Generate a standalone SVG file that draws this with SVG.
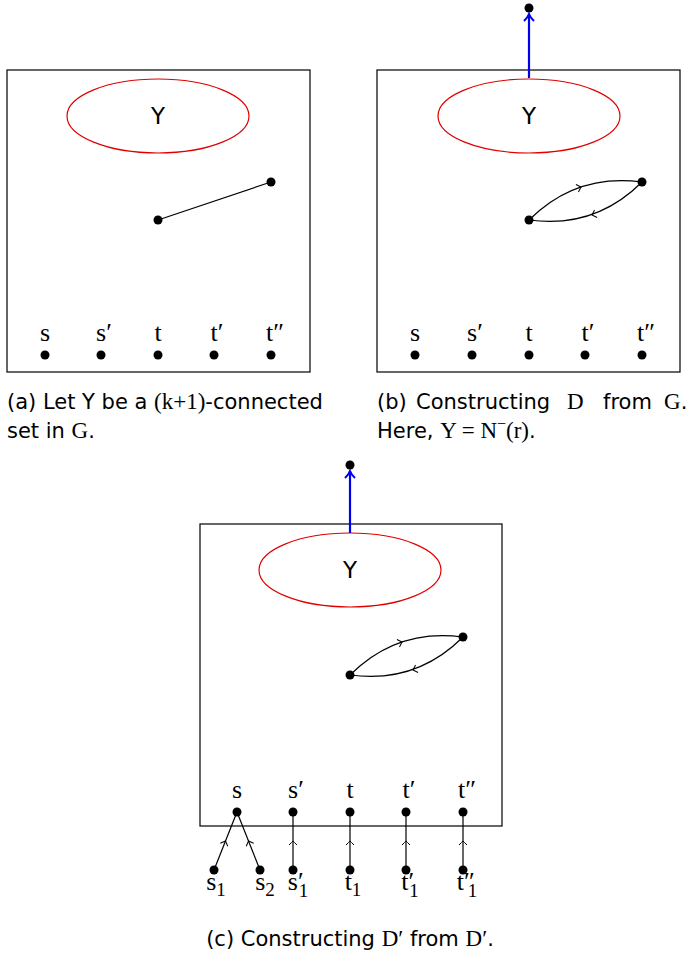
<svg xmlns="http://www.w3.org/2000/svg" width="696" height="961" viewBox="0 0 696 961">
<style>
.box{fill:none;stroke:#000;stroke-width:1.2}
.ell{fill:none;stroke:#e00000;stroke-width:1.2}
.edge{fill:none;stroke:#000;stroke-width:1.2}
.blue{fill:none;stroke:#0000ee;stroke-width:2.2}
.chev{fill:none;stroke:#000;stroke-width:1}
.m{font-family:"Liberation Serif","DejaVu Serif",serif;font-size:26px;text-anchor:middle}
.cap{font-family:"DejaVu Sans","Liberation Sans",sans-serif;font-size:21px}
.capm{font-family:"Liberation Serif","DejaVu Serif",serif;font-size:23px}
.Y{font-family:"DejaVu Sans","Liberation Sans",sans-serif;font-size:23px;text-anchor:middle}
</style>
<defs>
<marker id="bh" viewBox="-8 -6 10 12" markerWidth="10" markerHeight="12" refX="0" refY="0" orient="auto" markerUnits="userSpaceOnUse">
<path d="M-7,-5 Q-3,-1 0,0 Q-3,1 -7,5" fill="none" stroke="#0000ee" stroke-width="2"/>
</marker>
<path id="ch" d="M-4,-4 Q-1,-1 0,0 Q-1,1 -4,4" class="chev"/>
</defs>

<g id="panel-a">
<rect class="box" x="7" y="70" width="303" height="302"/>
<g id="a-Y"><ellipse class="ell" cx="158" cy="116" rx="91" ry="37"/><text class="Y" x="158" y="124">Y</text></g>
<g id="a-edges"><line class="edge" x1="158" y1="220" x2="271" y2="182"/></g>
<g id="a-n1"><circle cx="158" cy="220" r="4.5"/></g>
<g id="a-n2"><circle cx="271" cy="182" r="4.5"/></g>
<g id="a-s"><circle cx="45" cy="355" r="4.5"/><text class="m" x="45" y="341">s</text></g>
<g id="a-s1"><circle cx="101" cy="355" r="4.5"/><text class="m" x="104" y="341">s′</text></g>
<g id="a-t"><circle cx="158" cy="355" r="4.5"/><text class="m" x="158" y="341">t</text></g>
<g id="a-t1"><circle cx="214" cy="355" r="4.5"/><text class="m" x="217" y="341">t′</text></g>
<g id="a-t2"><circle cx="271" cy="355" r="4.5"/><text class="m" x="275" y="341">t″</text></g>
<text class="cap" x="7" y="409">(a) Let Y be a <tspan class="capm">(k+1)</tspan>-connected</text>
<text class="cap" x="7" y="438">set in <tspan class="capm">G</tspan>.</text>
</g>

<g id="panel-b">
<rect class="box" x="377" y="70" width="303" height="302"/>
<g id="b-Y"><ellipse class="ell" cx="529" cy="116" rx="91" ry="37"/><text class="Y" x="529" y="124">Y</text></g>
<g id="b-r"><circle cx="529" cy="8" r="4.5"/></g>
<g id="b-connectors">
<line class="blue" x1="529" y1="78" x2="529" y2="14" marker-end="url(#bh)"/>
<path class="edge" d="M529,220 Q576,173 642,182"/>
<path class="edge" d="M529,220 Q595,229 642,182"/>
<use href="#ch" transform="translate(581,187) rotate(-18.6)"/>
<use href="#ch" transform="translate(592,215) rotate(161.4)"/>
</g>
<g id="b-n1"><circle cx="529" cy="220" r="4.5"/></g>
<g id="b-n2"><circle cx="642" cy="182" r="4.5"/></g>
<g id="b-s"><circle cx="415" cy="355" r="4.5"/><text class="m" x="415" y="341">s</text></g>
<g id="b-s1"><circle cx="472" cy="355" r="4.5"/><text class="m" x="475" y="341">s′</text></g>
<g id="b-t"><circle cx="529" cy="355" r="4.5"/><text class="m" x="529" y="341">t</text></g>
<g id="b-t1"><circle cx="585" cy="355" r="4.5"/><text class="m" x="588" y="341">t′</text></g>
<g id="b-t2"><circle cx="642" cy="355" r="4.5"/><text class="m" x="646" y="341">t″</text></g>
<text class="cap" x="377" y="409">(b)</text>
<text class="cap" x="416" y="409">Constructing</text>
<text class="cap capm" x="567" y="409">D</text>
<text class="cap" x="603" y="409">from</text>
<text class="cap" x="664" y="409"><tspan class="capm">G</tspan>.</text>
<text class="cap" x="377" y="438">Here, <tspan class="capm">Y = N<tspan dy="-9" font-size="16">−</tspan><tspan dy="9">(r)</tspan></tspan>.</text>
</g>

<g id="panel-c">
<rect class="box" x="200" y="524" width="302" height="302"/>
<g id="c-Y"><ellipse class="ell" cx="350" cy="570" rx="91" ry="37"/><text class="Y" x="350" y="578">Y</text></g>
<g id="c-r"><circle cx="350" cy="465" r="4.5"/></g>
<g id="c-connectors">
<line class="blue" x1="350" y1="533" x2="350" y2="471" marker-end="url(#bh)"/>
<path class="edge" d="M350,675 Q397,628 463,637"/>
<path class="edge" d="M350,675 Q416,684 463,637"/>
<use href="#ch" transform="translate(402,642) rotate(-18.6)"/>
<use href="#ch" transform="translate(413,670) rotate(161.4)"/>
<line class="edge" x1="214" y1="870" x2="237" y2="812"/>
<line class="edge" x1="260" y1="870" x2="237" y2="812"/>
<line class="edge" x1="293" y1="870" x2="293" y2="812"/>
<line class="edge" x1="350" y1="870" x2="350" y2="812"/>
<line class="edge" x1="406" y1="870" x2="406" y2="812"/>
<line class="edge" x1="463" y1="870" x2="463" y2="812"/>
<use href="#ch" transform="translate(225.5,841) rotate(-68.4)"/>
<use href="#ch" transform="translate(248.5,841) rotate(-111.6)"/>
<use href="#ch" transform="translate(293,841) rotate(-90)"/>
<use href="#ch" transform="translate(350,841) rotate(-90)"/>
<use href="#ch" transform="translate(406,841) rotate(-90)"/>
<use href="#ch" transform="translate(463,841) rotate(-90)"/>
</g>
<g id="c-n1"><circle cx="350" cy="675" r="4.5"/></g>
<g id="c-n2"><circle cx="463" cy="637" r="4.5"/></g>
<g id="c-s"><circle cx="237" cy="812" r="4.5"/><text class="m" x="237" y="798">s</text></g>
<g id="c-s1"><circle cx="293" cy="812" r="4.5"/><text class="m" x="296" y="798">s′</text></g>
<g id="c-t"><circle cx="350" cy="812" r="4.5"/><text class="m" x="350" y="798">t</text></g>
<g id="c-t1"><circle cx="406" cy="812" r="4.5"/><text class="m" x="409" y="798">t′</text></g>
<g id="c-t2"><circle cx="463" cy="812" r="4.5"/><text class="m" x="467" y="798">t″</text></g>
<g id="c-s_1"><circle cx="214" cy="870" r="4.5"/><text class="m" x="216" y="890">s<tspan dy="6" font-size="19">1</tspan></text></g>
<g id="c-s_2"><circle cx="260" cy="870" r="4.5"/><text class="m" x="265" y="890">s<tspan dy="6" font-size="19">2</tspan></text></g>
<g id="c-s1_1"><circle cx="293" cy="870" r="4.5"/><text class="m" x="298" y="890">s′<tspan dx="-5" dy="7" font-size="19">1</tspan></text></g>
<g id="c-t_1"><circle cx="350" cy="870" r="4.5"/><text class="m" x="353" y="890">t<tspan dy="6" font-size="19">1</tspan></text></g>
<g id="c-t1_1"><circle cx="406" cy="870" r="4.5"/><text class="m" x="410" y="890">t′<tspan dx="-5" dy="7" font-size="19">1</tspan></text></g>
<g id="c-t2_1"><circle cx="463" cy="870" r="4.5"/><text class="m" x="467" y="890">t″<tspan dx="-7" dy="7" font-size="19">1</tspan></text></g>
<text class="cap" x="350" y="946" text-anchor="middle">(c) Constructing <tspan class="capm">D′</tspan> from <tspan class="capm">D′</tspan>.</text>
</g>
</svg>
